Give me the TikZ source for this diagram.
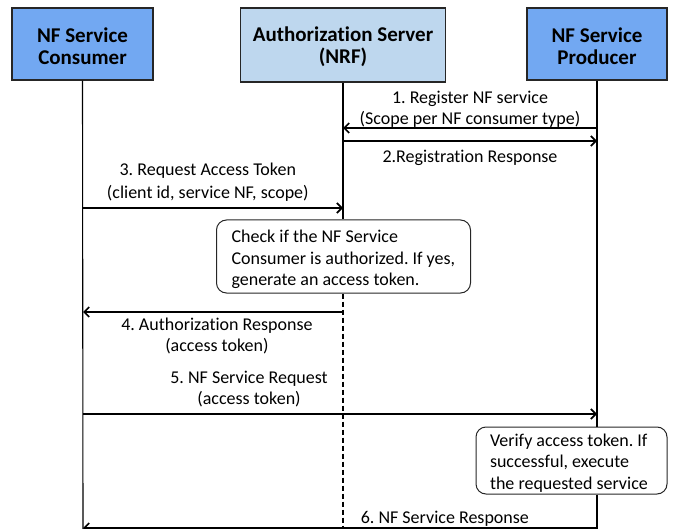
\documentclass[tikz,border=0pt]{standalone}
\usepackage{fontspec}
\setmainfont{Carlito}[RawFeature=-liga]
\usetikzlibrary{arrows.meta,positioning}

\definecolor{nfblue}{RGB}{114,168,242}
\definecolor{nrfblue}{RGB}{190,215,238}
\newcommand\topgap{\rule{0pt}{19pt}}

\begin{document}
\frenchspacing
\begin{tikzpicture}[x=1pt,y=-1pt,>={Straight Barb[length=5pt,width=10pt]},
        actor/.style={draw=black!85,line width=1.2pt,minimum width=141pt,
          minimum height=72pt,align=center,
          font=\fontsize{21}{22}\selectfont\bfseries},
        note/.style={draw=black!85,line width=1pt,rounded corners=10pt,
          align=left,inner sep=0pt,font=\fontsize{18}{21.5}\selectfont},
        lbl/.style={font=\fontsize{18}{21.5}\selectfont,align=center,inner sep=1pt},
        msg/.style={->,line width=1.7pt},
        life/.style={line width=1.1pt}]

  \useasboundingbox (0,0) rectangle (677,529);

  \node[actor,fill=nfblue] (cons) at (82.5,44) {\topgap NF Service\\Consumer};
  \node[actor,fill=nrfblue,minimum width=205pt,minimum height=74pt] (nrf) at (343,45)
        {\topgap Authorization Server\\(NRF)};
  \node[actor,fill=nfblue,minimum width=140pt] (prod) at (597,44) {\topgap NF Service\\Producer};

  \node[note] (check) at (343.5,256.5)
        {\parbox[c][73pt][c]{254pt}{\leftskip=15pt\vspace*{6pt}Check if the NF Service\\Consumer is authorized. If yes,\\generate an access token.}};
  \node[note] (verify) at (571.5,460.5)
        {\parbox[c][67pt][c]{191pt}{\leftskip=14pt\vspace*{5pt}Verify access token. If\\successful, execute\\the requested service}};

  % lifelines
  \coordinate (consend) at (83,529);
  \coordinate (nrfend) at (343,529);
  \coordinate (prodend) at (597,529);
  \draw[life] (cons.south) -- (consend);
  \draw[life] (nrf.south) -- (check.north -| nrf);
  \draw[life,dashed,dash pattern=on 5pt off 3pt] (check.south -| nrf) -- (nrfend);
  \draw[life] (prod.south) -- (verify.north -| prod);
  \draw[life] (verify.south -| prod) -- (prodend);

  % messages
  \coordinate (p1) at (597,128);  \coordinate (n1) at (343,128);
  \coordinate (n2) at (343,141);  \coordinate (p2) at (597,141);
  \coordinate (c3) at (83,208);   \coordinate (n3) at (343,208);
  \coordinate (n4) at (343,312);  \coordinate (c4) at (83,312);
  \coordinate (c5) at (83,414);   \coordinate (p5) at (597,414);
  \coordinate (p6) at (597,528);  \coordinate (c6) at (83,528);

  \path (p1) edge[msg] node[lbl,above,yshift=-1.5pt] {1. Register NF service\\(Scope per NF consumer type)} (n1)
        (n2) edge[msg] node[lbl,below,yshift=-7pt] {2.Registration Response} (p2)
        (c3) edge[msg] node[lbl,above,pos=0.48,yshift=4.5pt,font=\fontsize{18}{23}\selectfont] {3. Request Access Token\\(client id, service NF, scope)} (n3)
        (n4) edge[msg] node[lbl,below,pos=0.485,yshift=-4pt] {4. Authorization Response\\(access token)} (c4)
        (c5) edge[msg] node[lbl,above,pos=0.323,yshift=5pt,font=\fontsize{18}{21}\selectfont] {5. NF Service Request\\(access token)} (p5)
        (p6) edge[msg] node[lbl,above,pos=0.296] {6. NF Service Response} (c6);

\end{tikzpicture}
\end{document}
